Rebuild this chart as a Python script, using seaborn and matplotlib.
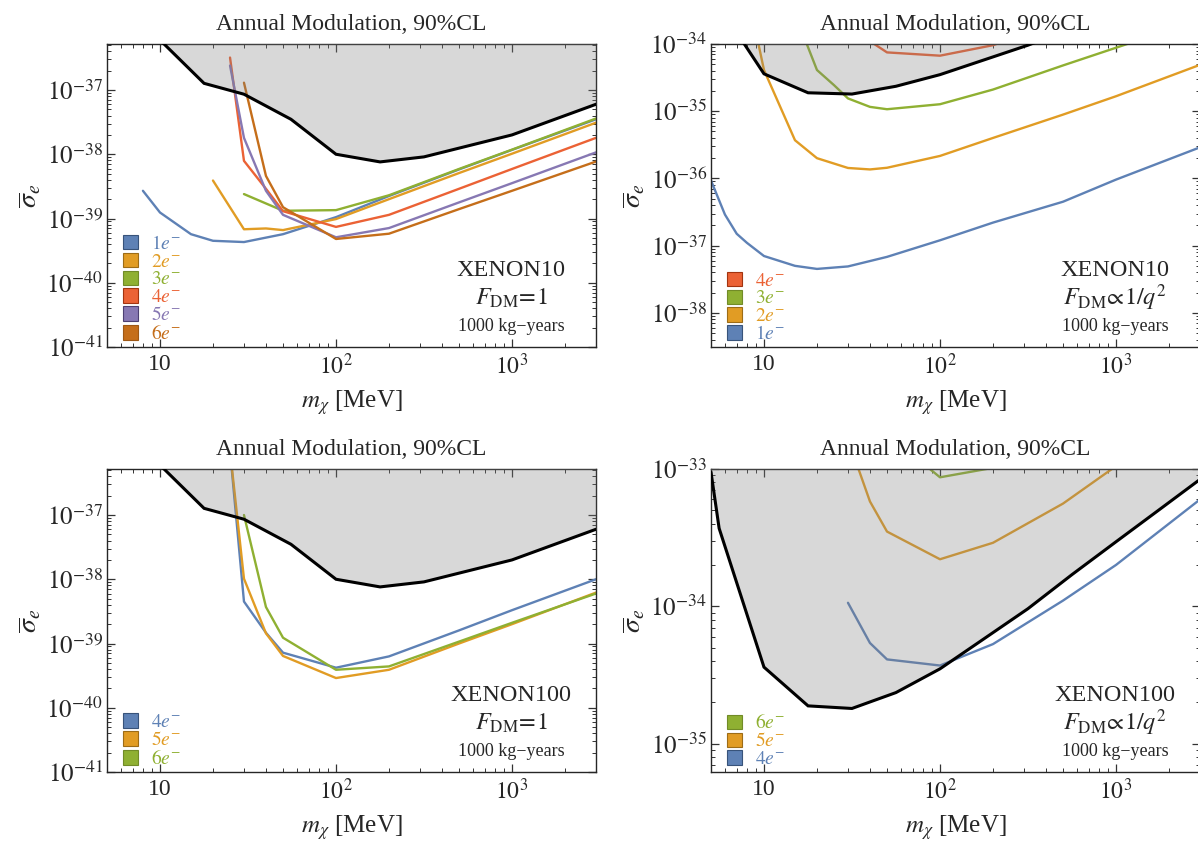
import matplotlib
matplotlib.use("Agg")
import matplotlib.pyplot as plt
import matplotlib.ticker as mticker
from matplotlib.patches import Patch
import numpy as np
import pandas as pd
import seaborn as sns

# Mathematica-like default palette
BLUE, ORANGE, GREEN = "#5E81B5", "#E19C24", "#8FB032"
RED, PURPLE, BROWN = "#EB6235", "#8778B3", "#C56E1A"

# ---- XENON10, F_DM = 1 ----
x10_f1_bound_m = [10, 17.8, 30, 55.5, 100, 178, 316, 1000, 3000]
x10_f1_bound_s = [6e-37, 1.27e-37, 8.6e-38, 3.5e-38, 1.0e-38, 7.6e-39, 9.1e-39, 2.0e-38, 6.0e-38]

x10_f1_1e_m = [8, 10, 15, 20, 30, 50, 100, 200, 500, 1000, 3000]
x10_f1_1e_s = [2.7e-39, 1.24e-39, 5.7e-40, 4.5e-40, 4.3e-40, 5.7e-40, 1.05e-39, 2.24e-39, 5.8e-39, 1.17e-38, 3.5e-38]
x10_f1_2e_m = [20, 30, 40, 50, 100, 200, 500, 1000, 3000]
x10_f1_2e_s = [3.9e-39, 6.8e-40, 7.0e-40, 6.6e-40, 9.8e-40, 2.0e-39, 5.1e-39, 1.02e-38, 3.1e-38]
x10_f1_3e_m = [30, 50, 100, 200, 500, 1000, 3000]
x10_f1_3e_s = [2.4e-39, 1.32e-39, 1.35e-39, 2.3e-39, 5.9e-39, 1.18e-38, 3.6e-38]
x10_f1_4e_m = [25, 30, 40, 50, 100, 200, 500, 1000, 3000]
x10_f1_4e_s = [3.2e-37, 7.9e-39, 2.9e-39, 1.3e-39, 7.4e-40, 1.14e-39, 2.9e-39, 5.9e-39, 1.8e-38]
x10_f1_5e_m = [25, 30, 40, 50, 100, 200, 500, 1000, 3000]
x10_f1_5e_s = [2.4e-37, 1.8e-38, 2.7e-39, 1.14e-39, 5.1e-40, 7.1e-40, 1.78e-39, 3.55e-39, 1.07e-38]
x10_f1_6e_m = [30, 40, 50, 100, 200, 500, 1000, 3000]
x10_f1_6e_s = [1.3e-37, 4.6e-39, 1.5e-39, 4.8e-40, 5.8e-40, 1.4e-39, 2.7e-39, 7.7e-39]

# ---- XENON10, F_DM ~ 1/q^2 ----
x10_q2_bound_m = [5, 5.56, 10, 17.8, 31.6, 56.2, 100, 178, 316, 562, 1000, 1778, 3000]
x10_q2_bound_s = [9.5e-34, 3.7e-34, 3.6e-35, 1.88e-35, 1.8e-35, 2.35e-35, 3.5e-35, 5.8e-35,
                  9.6e-35, 1.7e-34, 2.95e-34, 5.1e-34, 8.4e-34]

x10_q2_1e_m = [5, 6, 7, 8, 10, 15, 20, 30, 50, 100, 200, 500, 1000, 3000]
x10_q2_1e_s = [9.3e-37, 2.9e-37, 1.5e-37, 1.1e-37, 7e-38, 5e-38, 4.5e-38, 4.9e-38, 6.8e-38,
               1.2e-37, 2.2e-37, 4.5e-37, 9.6e-37, 2.9e-36]
x10_q2_2e_m = [9, 10, 15, 20, 30, 40, 50, 100, 200, 500, 1000, 3000]
x10_q2_2e_s = [1.5e-34, 4.1e-35, 3.7e-36, 2.0e-36, 1.43e-36, 1.36e-36, 1.44e-36, 2.16e-36,
               4.0e-36, 8.9e-36, 1.67e-35, 4.9e-35]
x10_q2_3e_m = [15, 20, 25, 30, 40, 50, 100, 200, 500, 1000, 3000]
x10_q2_3e_s = [2.8e-34, 4.1e-35, 2.44e-35, 1.55e-35, 1.16e-35, 1.07e-35, 1.27e-35, 2.1e-35,
               4.8e-35, 8.8e-35, 2.3e-34]
x10_q2_4e_m = [40, 50, 100, 200, 500]
x10_q2_4e_s = [1.1e-34, 7.5e-35, 6.7e-35, 9.6e-35, 2.2e-34]

# ---- XENON100, F_DM = 1 ----
x100_f1_4e_m = [25, 30, 40, 50, 100, 200, 500, 1000, 3000]
x100_f1_4e_s = [1e-36, 4.5e-39, 1.47e-39, 7.2e-40, 4.2e-40, 6.3e-40, 1.6e-39, 3.3e-39, 1e-38]
x100_f1_5e_m = [25, 30, 40, 50, 100, 200, 500, 1000, 3000]
x100_f1_5e_s = [1e-36, 1.02e-38, 1.44e-39, 6.4e-40, 2.9e-40, 3.9e-40, 1.0e-39, 2.0e-39, 6.2e-39]
x100_f1_6e_m = [30, 40, 50, 100, 200, 500, 1000, 3000]
x100_f1_6e_s = [1.0e-37, 3.7e-39, 1.23e-39, 3.9e-40, 4.4e-40, 1.07e-39, 2.1e-39, 6.0e-39]

# ---- XENON100, F_DM ~ 1/q^2 ----
x100_q2_4e_m = [30, 40, 50, 100, 200, 500, 1000, 3000]
x100_q2_4e_s = [1.06e-34, 5.4e-35, 4.1e-35, 3.7e-35, 5.3e-35, 1.1e-34, 2.0e-34, 6.0e-34]
x100_q2_5e_m = [30, 40, 50, 100, 200, 500, 1000]
x100_q2_5e_s = [1.65e-33, 5.8e-34, 3.5e-34, 2.2e-34, 2.9e-34, 5.6e-34, 1.05e-33]
x100_q2_6e_m = [50, 100, 200]
x100_q2_6e_s = [1.8e-33, 8.7e-34, 1.02e-33]

sns.set_theme(style="ticks")
plt.rcParams["font.family"] = ["Liberation Serif", "DejaVu Serif"]
plt.rcParams["mathtext.fontset"] = "stix"
plt.rcParams["axes.linewidth"] = 1.0


def long_frame(series):
    rows = []
    for label, m, s in series:
        for mi, si in zip(m, s):
            rows.append({"label": label, "m": mi, "sigma": si})
    return pd.DataFrame(rows)


def xfmt(v, pos):
    if np.isclose(v, 10):
        return "10"
    return r"$10^{%d}$" % round(np.log10(v))


def yfmt(v, pos):
    return r"$10^{%d}$" % round(np.log10(v))


def panel(ax, series, colors, bound_m, bound_s, ylim, legend_order, name, form):
    ax.set_xscale("log")
    ax.set_yscale("log")
    df = long_frame(series)
    pal = dict(zip([s[0] for s in series], colors))
    sns.lineplot(data=df, x="m", y="sigma", hue="label", palette=pal, sort=False,
                 estimator=None, lw=1.7, legend=False, ax=ax, zorder=2)
    ax.fill_between(bound_m, bound_s, 1e-28, color="0.5", alpha=0.3, lw=0, zorder=3)
    ax.plot(bound_m, bound_s, color="black", lw=2.2, zorder=4, solid_joinstyle="miter")
    ax.set_xlim(5, 3000)
    ax.set_ylim(*ylim)

    lo = int(np.ceil(np.log10(ylim[0]) - 1e-9))
    hi = int(np.floor(np.log10(ylim[1]) + 1e-9))
    ax.xaxis.set_major_locator(mticker.FixedLocator([10, 100, 1000]))
    ax.xaxis.set_major_formatter(mticker.FuncFormatter(xfmt))
    ax.xaxis.set_minor_locator(mticker.LogLocator(base=10, subs=np.arange(2, 10), numticks=20))
    ax.xaxis.set_minor_formatter(mticker.NullFormatter())
    ax.yaxis.set_major_locator(mticker.FixedLocator([10.0 ** k for k in range(lo, hi + 1)]))
    ax.yaxis.set_major_formatter(mticker.FuncFormatter(yfmt))
    ax.yaxis.set_minor_locator(mticker.LogLocator(base=10, subs=np.arange(2, 10), numticks=20))
    ax.yaxis.set_minor_formatter(mticker.NullFormatter())
    ax.tick_params(which="both", direction="in", top=True, right=True, color="0.2")
    ax.tick_params(which="major", length=6, width=0.9, pad=3)
    ax.tick_params(which="minor", length=3, width=0.7)
    ax.tick_params(axis="y", labelsize=18)
    ax.tick_params(axis="x", labelsize=17, pad=5)
    for sp in ax.spines.values():
        sp.set_color("0.15")

    ax.set_title("Annual Modulation, 90%CL", fontsize=17, pad=10)
    ax.set_xlabel(r"$m_\chi$ [MeV]", fontsize=18, labelpad=6)
    ax.set_ylabel(r"$\overline{\sigma}_e$", fontsize=20, labelpad=2)

    handles, labels, cols = [], [], []
    for lab in legend_order:
        c = pal[lab]
        handles.append(Patch(facecolor=c, edgecolor=sns.set_hls_values(c, l=0.35), lw=0.8))
        labels.append(lab)
        cols.append(c)
    leg = ax.legend(handles, labels, loc="lower left", bbox_to_anchor=(0.033, 0.012),
                    frameon=False, fontsize=14, handlelength=0.75, handleheight=0.75,
                    handletextpad=0.7, labelspacing=0.0, borderaxespad=0, borderpad=0)
    for t, c in zip(leg.get_texts(), cols):
        t.set_color(c)

    cx = 1 - 85 / 489
    ax.text(cx, 0.254, name, transform=ax.transAxes, ha="center", va="center", fontsize=17.5)
    ax.text(cx, 0.162, form, transform=ax.transAxes, ha="center", va="center", fontsize=17.5)
    ax.text(cx, 0.067, "1000 kg\u2212years", transform=ax.transAxes, ha="center",
            va="center", fontsize=13)


fig = plt.figure(figsize=(11.98, 8.52), dpi=100)
W, H = 1198, 852
ax_tl = fig.add_axes([107 / W, 1 - 347 / H, 489 / W, 303 / H])
ax_tr = fig.add_axes([711 / W, 1 - 347 / H, 489 / W, 303 / H])
ax_bl = fig.add_axes([107 / W, 1 - 772 / H, 489 / W, 303 / H])
ax_br = fig.add_axes([711 / W, 1 - 772 / H, 489 / W, 303 / H])

e = lambda n: r"$%de^{-}$" % n

panel(ax_tl,
      [(e(1), x10_f1_1e_m, x10_f1_1e_s), (e(2), x10_f1_2e_m, x10_f1_2e_s),
       (e(3), x10_f1_3e_m, x10_f1_3e_s), (e(4), x10_f1_4e_m, x10_f1_4e_s),
       (e(5), x10_f1_5e_m, x10_f1_5e_s), (e(6), x10_f1_6e_m, x10_f1_6e_s)],
      [BLUE, ORANGE, GREEN, RED, PURPLE, BROWN],
      x10_f1_bound_m, x10_f1_bound_s, (1e-41, 5.2e-37),
      [e(1), e(2), e(3), e(4), e(5), e(6)],
      "XENON10", r"$F_{\mathrm{DM}}\!=\!1$")

panel(ax_tr,
      [(e(1), x10_q2_1e_m, x10_q2_1e_s), (e(2), x10_q2_2e_m, x10_q2_2e_s),
       (e(3), x10_q2_3e_m, x10_q2_3e_s), (e(4), x10_q2_4e_m, x10_q2_4e_s)],
      [BLUE, ORANGE, GREEN, RED],
      x10_q2_bound_m, x10_q2_bound_s, (3.1e-39, 1e-34),
      [e(4), e(3), e(2), e(1)],
      "XENON10", r"$F_{\mathrm{DM}}\!\propto\!1/q^2$")

panel(ax_bl,
      [(e(4), x100_f1_4e_m, x100_f1_4e_s), (e(5), x100_f1_5e_m, x100_f1_5e_s),
       (e(6), x100_f1_6e_m, x100_f1_6e_s)],
      [BLUE, ORANGE, GREEN],
      x10_f1_bound_m, x10_f1_bound_s, (1e-41, 5.2e-37),
      [e(4), e(5), e(6)],
      "XENON100", r"$F_{\mathrm{DM}}\!=\!1$")

panel(ax_br,
      [(e(4), x100_q2_4e_m, x100_q2_4e_s), (e(5), x100_q2_5e_m, x100_q2_5e_s),
       (e(6), x100_q2_6e_m, x100_q2_6e_s)],
      [BLUE, ORANGE, GREEN],
      x10_q2_bound_m, x10_q2_bound_s, (6.2e-36, 1e-33),
      [e(6), e(5), e(4)],
      "XENON100", r"$F_{\mathrm{DM}}\!\propto\!1/q^2$")

fig.savefig("out.png", dpi=100)
plt.close(fig)
